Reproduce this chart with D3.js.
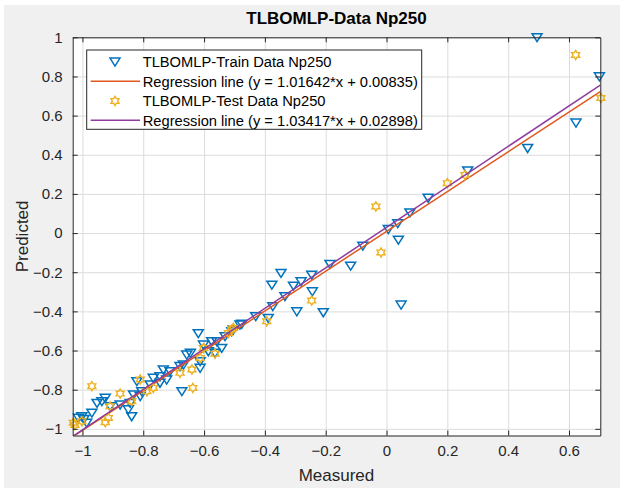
<!DOCTYPE html>
<html>
<head>
<meta charset="utf-8">
<script src="https://cdn.jsdelivr.net/npm/d3@7"></script>
<style>
  html, body { margin: 0; padding: 0; background: #ffffff; }
  svg { display: block; }
  text { font-family: "Liberation Sans", Arial, Helvetica, sans-serif; }
</style>
</head>
<body>
<svg id="chart" width="630" height="488"></svg>
<script>
// ---------------- data ----------------
const chartTitle = "TLBOMLP-Data Np250";
const xLabel = "Measured";
const yLabel = "Predicted";

const xTicks = [-1, -0.8, -0.6, -0.4, -0.2, 0, 0.2, 0.4, 0.6];
const yTicks = [-1, -0.8, -0.6, -0.4, -0.2, 0, 0.2, 0.4, 0.6, 0.8, 1];
const xLimits = [-1.032, 0.703];
const yLimits = [-1.034, 1.0];

const seriesNames = [
  "TLBOMLP-Train Data Np250",
  "Regression line (y = 1.01642*x + 0.00835)",
  "TLBOMLP-Test Data Np250",
  "Regression line (y = 1.03417*x + 0.02898)"
];

const trainMeasured = [
  0.495, 0.700, 0.623, 0.464, 0.267, 0.137, 0.077, 0.037, 0.006, 0.039,
  0.048, -0.078, -0.118, -0.186, -0.208, -0.246, -0.244, -0.281, -0.306, -0.347,
  -0.377, -0.334, -0.295, -0.374, -0.389, -0.430, -0.476, -0.482, -0.504, -0.509,
  -0.531, -0.558, -0.575, -0.542, -0.564, -0.586, -0.619, -0.645, -0.613, -0.668,
  -0.613, -0.679, -0.734, -0.712, -0.745, -0.723, -0.767, -0.777, -0.673, -0.821,
  -0.805, -0.832, -0.810, -0.843, -0.876, -0.849, -0.838, -0.925, -0.936, -0.909,
  -0.952, -0.969, -1.002, -1.013, -0.986, -0.995, -0.745, -0.657, -0.602
];
const trainPredicted = [
  1.000, 0.800, 0.564, 0.434, 0.319, 0.180, 0.105, 0.050, 0.020, -0.034,
  -0.366, -0.065, -0.167, -0.158, -0.405, -0.213, -0.298, -0.247, -0.269, -0.204,
  -0.264, -0.323, -0.400, -0.374, -0.434, -0.425, -0.464, -0.468, -0.493, -0.502,
  -0.527, -0.553, -0.553, -0.587, -0.612, -0.604, -0.512, -0.612, -0.655, -0.672,
  -0.689, -0.680, -0.697, -0.706, -0.732, -0.749, -0.740, -0.774, -0.808, -0.757,
  -0.808, -0.825, -0.833, -0.868, -0.876, -0.901, -0.936, -0.842, -0.859, -0.885,
  -0.868, -0.918, -0.936, -0.944, -0.969, -0.950, -0.765, -0.621, -0.570
];

const testMeasured = [
  0.622, 0.705, 0.258, 0.200, -0.035, -0.018, -0.246, -0.394, -0.504, -0.520,
  -0.509, -0.602, -0.564, -0.613, -0.640, -0.679, -0.637, -0.767, -0.788, -0.810,
  -0.969, -0.876, -0.838, -0.909, -0.915, -0.925, -1.030, -1.002, -1.025
];
const testPredicted = [
  0.910, 0.690, 0.297, 0.255, 0.136, -0.099, -0.345, -0.451, -0.485, -0.510,
  -0.493, -0.587, -0.616, -0.638, -0.697, -0.714, -0.791, -0.791, -0.808, -0.748,
  -0.782, -0.820, -0.859, -0.885, -0.944, -0.966, -0.969, -0.961, -0.980
];

const trainFit = { slope: 1.01642, intercept: 0.00835 };
const testFit = { slope: 1.03417, intercept: 0.02898 };

// ---------------- layout ----------------
const W = 630, H = 488;
const plot = { left: 72.7, right: 600.3, top: 37.3, bottom: 435.5 };
const colTrain = "#0072BD", colTest = "#EDB120";
const colTrainLine = "#E0581C", colTestLine = "#8E3C9E";
const axisCol = "#262626";

const svg = d3.select("#chart");

// figure background
svg.append("rect").attr("x", 0).attr("y", 0).attr("width", W).attr("height", H).attr("fill", "#ffffff");
svg.append("rect").attr("x", 4).attr("y", 5).attr("width", 616).attr("height", H - 5).attr("fill", "#f0f0f0");

const x = d3.scaleLinear().domain(xLimits).range([plot.left, plot.right]);
const y = d3.scaleLinear().domain(yLimits).range([plot.bottom, plot.top]);

// plot area
svg.append("rect")
  .attr("x", plot.left).attr("y", plot.top)
  .attr("width", plot.right - plot.left).attr("height", plot.bottom - plot.top)
  .attr("fill", "#ffffff");

const fmt = d => (Math.abs(d) < 1e-9 ? "0" : d3.format("")(+d.toFixed(1)));

// grid
svg.append("g")
  .attr("transform", `translate(0,${plot.bottom})`)
  .call(d3.axisBottom(x).tickValues(xTicks).tickSize(-(plot.bottom - plot.top)).tickFormat(""))
  .call(g => g.select(".domain").remove())
  .call(g => g.selectAll("line").attr("stroke", "#dcdcdc").attr("stroke-width", 1));

svg.append("g")
  .attr("transform", `translate(${plot.left},0)`)
  .call(d3.axisLeft(y).tickValues(yTicks).tickSize(-(plot.right - plot.left)).tickFormat(""))
  .call(g => g.select(".domain").remove())
  .call(g => g.selectAll("line").attr("stroke", "#dcdcdc").attr("stroke-width", 1));

svg.append("clipPath").attr("id", "plotClip")
  .append("rect")
  .attr("x", plot.left).attr("y", plot.top)
  .attr("width", plot.right - plot.left).attr("height", plot.bottom - plot.top);

const fitLine = (fit) => d3.line().x(d => x(d)).y(d => y(fit.slope * d + fit.intercept))(xLimits);

// markers
const triPath = (s) => `M${-s},${-s * 0.72}L${s},${-s * 0.72}L0,${s * 0.88}Z`;
const hexPath = (r) => {
  const pts = [];
  for (let i = 0; i < 12; i++) {
    const a = -Math.PI / 2 + i * Math.PI / 6;
    const rr = (i % 2 === 0) ? r : r / Math.sqrt(3);
    pts.push([rr * Math.cos(a), rr * Math.sin(a)]);
  }
  return "M" + pts.map(p => p[0].toFixed(2) + "," + p[1].toFixed(2)).join("L") + "Z";
};

const trainData = trainMeasured.map((v, i) => ({ x: v, y: trainPredicted[i] }));
const testData = testMeasured.map((v, i) => ({ x: v, y: testPredicted[i] }));

svg.append("g").selectAll("path").data(trainData).join("path")
  .attr("d", triPath(5))
  .attr("transform", d => `translate(${x(d.x)},${y(d.y)})`)
  .attr("fill", "none").attr("stroke", colTrain).attr("stroke-width", 1.5);

svg.append("path").attr("d", fitLine(trainFit)).attr("clip-path", "url(#plotClip)")
  .attr("fill", "none").attr("stroke", colTrainLine).attr("stroke-width", 1.5);

svg.append("g").selectAll("path").data(testData).join("path")
  .attr("d", hexPath(4.6))
  .attr("transform", d => `translate(${x(d.x)},${y(d.y)})`)
  .attr("fill", "none").attr("stroke", colTest).attr("stroke-width", 1.4);

svg.append("path").attr("d", fitLine(testFit)).attr("clip-path", "url(#plotClip)")
  .attr("fill", "none").attr("stroke", colTestLine).attr("stroke-width", 1.5);

// axes (box with inward ticks on all sides)
const tickLen = 5;
const axB = svg.append("g").attr("transform", `translate(0,${plot.bottom})`)
  .call(d3.axisBottom(x).tickValues(xTicks).tickSizeInner(-tickLen).tickSizeOuter(0).tickPadding(10).tickFormat(fmt));
const axT = svg.append("g").attr("transform", `translate(0,${plot.top})`)
  .call(d3.axisTop(x).tickValues(xTicks).tickSizeInner(-tickLen).tickSizeOuter(0).tickFormat(""));
const axL = svg.append("g").attr("transform", `translate(${plot.left},0)`)
  .call(d3.axisLeft(y).tickValues(yTicks).tickSizeInner(-tickLen).tickSizeOuter(0).tickPadding(10).tickFormat(fmt));
const axR = svg.append("g").attr("transform", `translate(${plot.right},0)`)
  .call(d3.axisRight(y).tickValues(yTicks).tickSizeInner(-tickLen).tickSizeOuter(0).tickFormat(""));

[axB, axT, axL, axR].forEach(g => {
  g.select(".domain").attr("stroke", axisCol).attr("stroke-width", 1);
  g.selectAll(".tick line").attr("stroke", axisCol).attr("stroke-width", 1);
  g.selectAll(".tick text").attr("fill", axisCol).style("font-size", "15px");
});
axB.selectAll(".tick text").attr("dy", "0.71em");

// title & labels
svg.append("text").attr("x", (plot.left + plot.right) / 2).attr("y", 24)
  .attr("text-anchor", "middle").style("font-size", "17px").style("font-weight", "bold")
  .attr("fill", "#000").text(chartTitle);

svg.append("text").attr("x", (plot.left + plot.right) / 2).attr("y", 481)
  .attr("text-anchor", "middle").style("font-size", "17px").attr("fill", axisCol).text(xLabel);

svg.append("text").attr("transform", `translate(28,${(plot.top + plot.bottom) / 2}) rotate(-90)`)
  .attr("text-anchor", "middle").style("font-size", "17px").attr("fill", axisCol).text(yLabel);

// legend
const lg = { x0: 86.7, y0: 50, x1: 421.7, y1: 129.3 };
svg.append("rect").attr("x", lg.x0).attr("y", lg.y0).attr("width", lg.x1 - lg.x0).attr("height", lg.y1 - lg.y0)
  .attr("fill", "#ffffff").attr("stroke", axisCol).attr("stroke-width", 1);

const rowY = [61.7, 81.3, 100.9, 120.3];
const kinds = ["tri", "line1", "hex", "line2"];
seriesNames.forEach((name, i) => {
  const ry = rowY[i];
  if (kinds[i] === "tri") {
    svg.append("path").attr("d", triPath(5)).attr("transform", `translate(115,${ry})`)
      .attr("fill", "none").attr("stroke", colTrain).attr("stroke-width", 1.5);
  } else if (kinds[i] === "hex") {
    svg.append("path").attr("d", hexPath(4.6)).attr("transform", `translate(115,${ry})`)
      .attr("fill", "none").attr("stroke", colTest).attr("stroke-width", 1.4);
  } else {
    svg.append("line").attr("x1", 90.7).attr("x2", 140).attr("y1", ry).attr("y2", ry)
      .attr("stroke", kinds[i] === "line1" ? colTrainLine : colTestLine).attr("stroke-width", 1.5);
  }
  svg.append("text").attr("x", 142.7).attr("y", ry).attr("dy", "0.36em")
    .style("font-size", "14.7px").attr("fill", "#000").text(name);
});
</script>
</body>
</html>
